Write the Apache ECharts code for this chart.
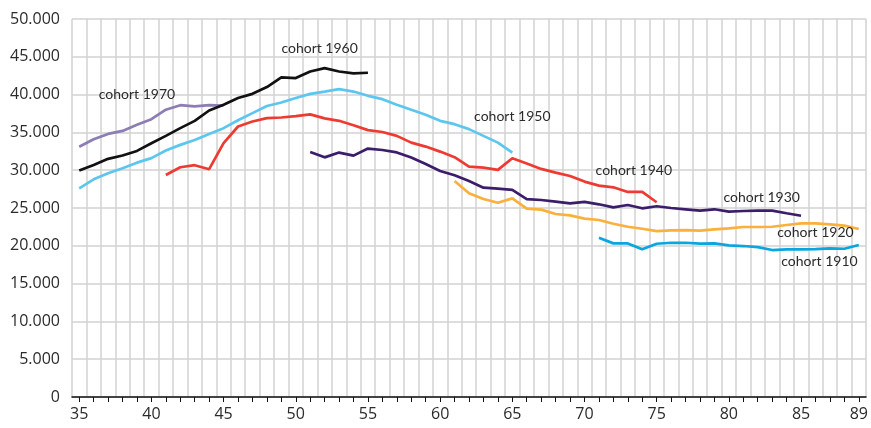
<!DOCTYPE html>
<html>
<head>
<meta charset="utf-8">
<script src="https://cdn.jsdelivr.net/npm/echarts@6/dist/echarts.min.js"></script>
<style>
html,body{margin:0;padding:0;background:#fff;}
#chart{width:871px;height:428px;}
</style>
</head>
<body>
<div id="chart"></div>
<script>
// Ages (x categories)
const ages = [];
for (let a = 35; a <= 89; a++) ages.push(String(a));

// Y tick labels
const yTicks = ['0','5.000','10.000','15.000','20.000','25.000','30.000','35.000','40.000','45.000','50.000'];

// Cohort series: start age + values
const start1970 = 35;
const cohort1970 = [33100, 34100, 34800, 35200, 36000, 36750, 38000, 38600, 38450, 38600, 38560];
const start1960 = 35;
const cohort1960 = [29950, 30700, 31500, 31950, 32550, 33570, 34540, 35560, 36530, 37900, 38650, 39540, 40100, 41000, 42270, 42190, 43060, 43500, 43060, 42800, 42890];
const start1950 = 35;
const cohort1950 = [27600, 28800, 29600, 30260, 31000, 31600, 32600, 33350, 34000, 34800, 35560, 36600, 37550, 38500, 38950, 39540, 40100, 40400, 40730, 40400, 39840, 39400, 38650, 38000, 37330, 36530, 36090, 35430, 34540, 33650, 32330];
const start1940 = 41;
const cohort1940 = [29370, 30390, 30660, 30130, 33570, 35780, 36440, 36890, 36970, 37150, 37380, 36850, 36530, 35950, 35300, 35050, 34540, 33650, 33125, 32460, 31720, 30475, 30340, 30040, 31590, 30900, 30170, 29680, 29240, 28490, 27960, 27740, 27120, 27120, 25760];
const start1930 = 51;
const cohort1930 = [32420, 31700, 32330, 31930, 32860, 32670, 32350, 31670, 30830, 29900, 29330, 28580, 27690, 27560, 27390, 26170, 26060, 25840, 25620, 25800, 25490, 25090, 25400, 24960, 25230, 25000, 24830, 24650, 24830, 24510, 24600, 24650, 24650, 24300, 23980];
const start1920 = 61;
const cohort1920 = [28580, 26950, 26190, 25700, 26270, 24930, 24780, 24210, 24030, 23590, 23410, 22920, 22520, 22260, 21950, 22050, 22070, 22000, 22180, 22310, 22490, 22490, 22520, 22750, 22970, 22970, 22840, 22660, 22220];
const start1910 = 71;
const cohort1910 = [21070, 20320, 20320, 19530, 20270, 20400, 20400, 20300, 20320, 20060, 19970, 19830, 19440, 19530, 19530, 19570, 19660, 19610, 20100];

// Label anchors
const labelNames = ['cohort 1970','cohort 1960','cohort 1950','cohort 1940','cohort 1930','cohort 1920','cohort 1910'];
const labelAges = ['39','52','65','73','82','86','86'];
const labelValues = [39950, 46050, 37050, 29900, 26450, 21700, 17980];
const labelDx = [0, -5, 0, 6, 4, 0, 4];

function pad(startAge, vals) {
  const out = ages.map(() => null);
  vals.forEach((v, i) => { out[startAge - 35 + i] = v; });
  return out;
}

const cohorts = [
  {name: 'cohort 1970', start: start1970, vals: cohort1970, color: '#8c7db5'},
  {name: 'cohort 1960', start: start1960, vals: cohort1960, color: '#111111'},
  {name: 'cohort 1950', start: start1950, vals: cohort1950, color: '#5cc6ef'},
  {name: 'cohort 1940', start: start1940, vals: cohort1940, color: '#ee3b32'},
  {name: 'cohort 1930', start: start1930, vals: cohort1930, color: '#3b1d6b'},
  {name: 'cohort 1920', start: start1920, vals: cohort1920, color: '#fbb03b'},
  {name: 'cohort 1910', start: start1910, vals: cohort1910, color: '#0aa6e0'}
];

const FONT = 'Lato, "Open Sans", sans-serif';
const TICKFONT = '"Open Sans", Lato, sans-serif';

const series = cohorts.map((c, i) => ({
  type: 'line',
  name: c.name,
  data: pad(c.start, c.vals),
  showSymbol: false,
  symbol: 'none',
  connectNulls: false,
  lineStyle: {color: c.color, width: 2.7},
  itemStyle: {color: c.color},
  animation: false,
  z: 3,
  markPoint: {
    symbol: 'circle',
    symbolSize: 1,
    itemStyle: {color: 'rgba(0,0,0,0)'},
    animation: false,
    label: {
      show: true,
      position: 'inside',
      offset: [labelDx[i], 0],
      formatter: labelNames[i],
      color: '#2b2b2b',
      fontFamily: FONT,
      fontSize: 14
    },
    data: [{coord: [labelAges[i], labelValues[i]]}]
  }
}));

const chart = echarts.init(document.getElementById('chart'), null, {renderer: 'canvas'});
chart.setOption({
  backgroundColor: '#fff',
  animation: false,
  grid: {left: 72, right: 5, top: 19, bottom: 31},
  xAxis: {
    type: 'category',
    data: ages,
    boundaryGap: true,
    axisLine: {show: true, lineStyle: {color: '#111', width: 1.5}},
    axisTick: {show: true, interval: 0, alignWithLabel: true, length: 5, lineStyle: {color: '#111', width: 1}},
    axisLabel: {
      interval: 0,
      formatter: function (v) { const n = +v; return (n % 5 === 0 || n === 89) ? v : ''; },
      color: '#2b2b2b', fontFamily: TICKFONT, fontSize: 16, margin: 9
    },
    splitLine: {show: true, interval: 0, lineStyle: {color: '#d2d2d2', width: 1.5}}
  },
  yAxis: {
    type: 'value',
    min: 0, max: 50000, interval: 5000,
    axisLine: {show: false},
    axisTick: {show: false},
    axisLabel: {
      formatter: function (v) { return yTicks[Math.round(v / 5000)]; },
      color: '#2b2b2b', fontFamily: TICKFONT, fontSize: 16, margin: 12
    },
    splitLine: {show: true, lineStyle: {color: '#d2d2d2', width: 1.5}}
  },
  series: series
});
</script>
</body>
</html>
